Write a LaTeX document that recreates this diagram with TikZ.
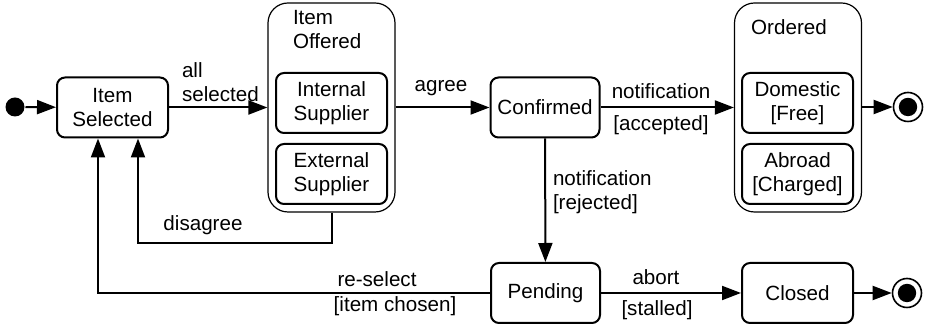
\documentclass[tikz,border=0pt]{standalone}
\usepackage{fontspec}
\setmainfont{Liberation Sans}
\usetikzlibrary{arrows.meta,calc}
\tikzset{every node/.append style={font=\fontsize{10.3}{12}\selectfont}}

\begin{document}
\begin{tikzpicture}[x=0.5pt,y=-0.5pt,line width=1pt,
  >={Triangle[length=9.5pt,width=7pt]},
  state/.style={draw,rounded corners=4pt,minimum width=55.5pt,minimum height=30pt,align=center,inner sep=0pt},
  comp/.style={draw,line width=0.6pt,rounded corners=10pt,minimum width=63.5pt,minimum height=104.5pt,inner sep=0pt},
  lbl/.style={inner sep=0pt,align=left},
  initial/.style={circle,fill,minimum size=9.5pt,inner sep=0pt},
  final/.style={circle,draw,line width=0.8pt,minimum size=14.5pt,inner sep=0pt,
    path picture={\fill (path picture bounding box.center) circle (4.6pt);}}]
  \useasboundingbox (0,0) rectangle (928,325);
  % composite states
  \node[comp] (offered) at (331.5,107.5) {};
  \node[comp] (ordered) at (798,107.5) {};
  \node[lbl,anchor=west] (offlbl) at (292,30) {Item\\Offered};
  \node[lbl] (ordlbl) at (789,27) {Ordered};
  % simple states
  \node[initial] (init) at (15,107) {};
  \node[state] (sel) at (112.5,107.5) {Item\\Selected};
  \node[state] (internal) at (331.5,103) {Internal\\Supplier};
  \node[state] (external) at (331.5,174) {External\\Supplier};
  \node[state,minimum width=54.5pt] (conf) at (545,107.5) {Confirmed};
  \node[state] (domestic) at (797.5,103) {Domestic\\{[Free]}};
  \node[state] (abroad) at (797.5,174) {Abroad\\{[Charged]}};
  \node[state,minimum width=54.5pt] (pend) at (545.5,293) {Pending};
  \node[state] (closed) at (797.5,293) {Closed};
  \node[final] (fin1) at (908,107) {};
  \node[final] (fin2) at (907,293) {};
  % transitions
  \draw[->] (init) -- (sel);
  \draw[->] (sel.east) -- (sel.east -| offered.west);
  \draw[->] (offered.east |- conf) -- (conf);
  \draw[->] (conf) -- (ordered.west |- conf);
  \draw[->] (ordered.east |- fin1) -- (fin1);
  \draw[->] (conf) -- (pend);
  \draw[->] (pend) -- (closed);
  \draw[->] (closed) -- (fin2);
  \draw[->] (offered.south) -- ++(0,30) -| ([xshift=12.75pt]sel.south);
  \draw[->] (pend.west) -| ([xshift=-7.25pt]sel.south);
  % labels
  \node[lbl,anchor=west] (allsel) at (181,82) {all\\selected};
  \node[lbl] (agr) at (441,88) {agree};
  \node[lbl] (notacc) at (661,91) {notification};
  \node[lbl] (acc) at (661,125) {[accepted]};
  \node[lbl,anchor=west] (notrej) at (552,192) {notification\\{[rejected]}};
  \node[lbl] (abrt) at (656,277) {abort};
  \node[lbl] (stall) at (657,310) {[stalled]};
  \node[lbl] (resel) at (377,279) {re-select};
  \node[lbl] (chosen) at (395,306) {[item chosen]};
  \node[lbl] (disagr) at (203,225) {disagree};
\end{tikzpicture}
\end{document}
